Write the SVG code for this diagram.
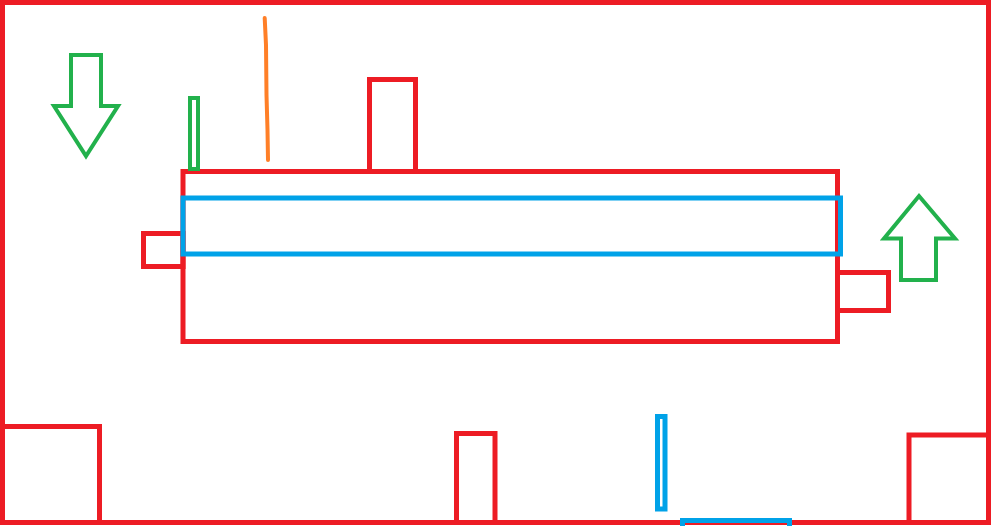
<svg xmlns="http://www.w3.org/2000/svg" width="991" height="526" viewBox="0 0 991 526">
<style>
.r{fill:none;stroke:#ED1C24;stroke-width:5}
.b{fill:none;stroke:#00A2E8;stroke-width:5}
.g{fill:none;stroke:#22B14C;stroke-width:4;stroke-linejoin:miter}
.o{fill:none;stroke:#FF7F27;stroke-width:4;stroke-linecap:round;stroke-linejoin:round}
</style>
<rect width="991" height="526" fill="#fff"/>
<rect class="r" x="2.5" y="2.5" width="986" height="520"/>
<rect class="r" x="183" y="171.5" width="654.5" height="170"/>
<rect class="r" x="369.5" y="79.5" width="46" height="92"/>
<rect class="r" x="143.5" y="233.5" width="39.5" height="33"/>
<rect class="r" x="837.5" y="272.5" width="51" height="38"/>
<rect class="r" x="2.5" y="426.5" width="97" height="96"/>
<rect class="r" x="456.5" y="433.5" width="38.5" height="89"/>
<rect class="r" x="909" y="435" width="79.5" height="87.5"/>
<rect class="b" x="183" y="198" width="657.5" height="56"/>
<rect class="b" x="657.5" y="416.5" width="7.5" height="92.5"/>
<rect class="b" x="682.5" y="520.5" width="107" height="12"/>
<rect class="g" x="190" y="98" width="8" height="71"/>
<polygon class="g" points="71,55 101,55 101,106 118,106 86,156 54,106 71,106"/>
<polygon class="g" points="919,196 955,238.5 936,238.5 936,280 901,280 901,238.5 884,238.5"/>
<polyline class="o" points="264.7,18 266,45 266.5,95 267.5,130 268,160"/>
</svg>
